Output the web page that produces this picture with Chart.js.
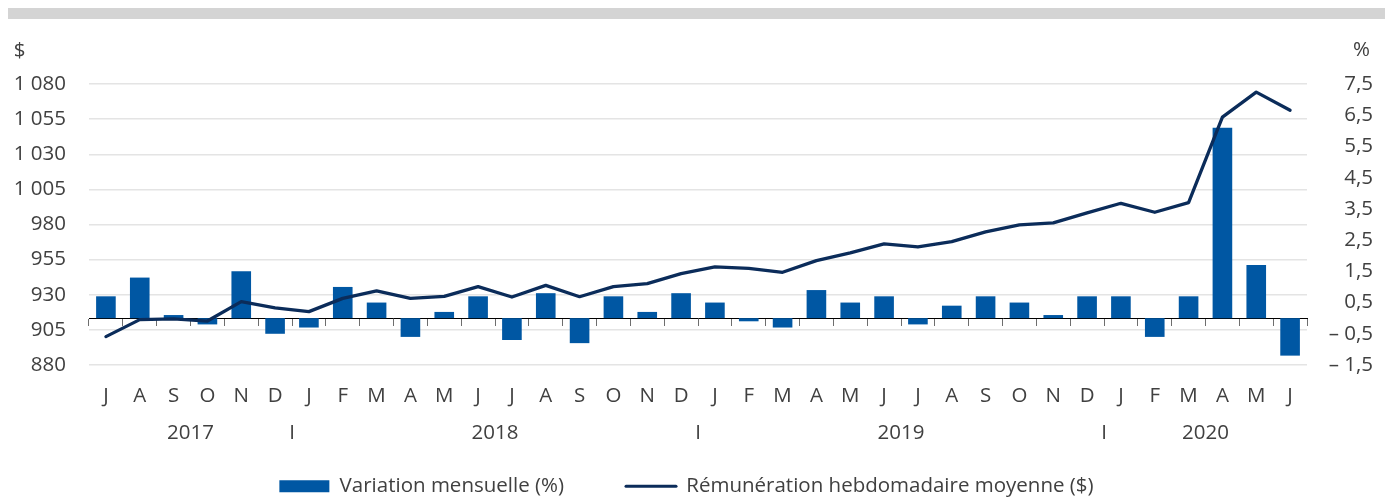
<!DOCTYPE html>
<html>
<head>
<meta charset="utf-8">
<script src="https://cdn.jsdelivr.net/npm/chart.js@4.4.1/dist/chart.umd.min.js"></script>
<style>
  html, body { margin: 0; padding: 0; background: #ffffff; }
  #wrap { position: relative; width: 1385px; height: 497px; overflow: hidden; }
  #band { position: absolute; left: 8px; top: 8px; width: 1377px; height: 11px; background: #d4d4d4; }
  #c { position: absolute; left: 0; top: 0; }
</style>
</head>
<body>
<div id="wrap">
  <div id="band"></div>
  <canvas id="c" width="1385" height="497"></canvas>
</div>
<script>
// ---- Data ----
const months = ['J','A','S','O','N','D',
                'J','F','M','A','M','J','J','A','S','O','N','D',
                'J','F','M','A','M','J','J','A','S','O','N','D',
                'J','F','M','A','M','J'];
const yearLabels = ['2017', 'I', '2018', 'I', '2019', 'I', '2020'];
const yearLabelPositions = [3, 6, 12, 18, 24, 30, 33];

const variation = [0.7, 1.3, 0.1, -0.2, 1.5, -0.5,
                   -0.3, 1.0, 0.5, -0.6, 0.2, 0.7, -0.7, 0.8, -0.8, 0.7, 0.2, 0.8,
                   0.5, -0.1, -0.3, 0.9, 0.5, 0.7, -0.2, 0.4, 0.7, 0.5, 0.1, 0.7,
                   0.7, -0.6, 0.7, 6.1, 1.7, -1.2];

const remuneration = [900.2, 912.3, 912.8, 911.3, 925.1, 920.6,
                      918.0, 927.4, 932.7, 927.4, 928.9, 935.8, 928.4, 936.7, 928.6, 935.8, 937.9, 945.0,
                      949.8, 948.8, 946.0, 954.3, 959.8, 966.2, 964.0, 967.8, 974.7, 979.7, 981.1, 988.3,
                      995.1, 988.7, 995.6, 1056.4, 1074.2, 1061.3];

const leftTicks = [880, 905, 930, 955, 980, 1005, 1030, 1055, 1080];
const rightTicks = [-1.5, -0.5, 0.5, 1.5, 2.5, 3.5, 4.5, 5.5, 6.5, 7.5];
const seriesLabels = ['Variation mensuelle (%)', 'Rémunération hebdomadaire moyenne ($)'];
const unitLabels = ['$', '%'];

// ---- Styles ----
const FONT = "'Open Sans', 'Noto Sans', sans-serif";
const textColor = '#404040';
const barColor = '#0057a3';
const lineColor = '#0b2c5a';
const axisFontSize = 20.5;

function fmtLeft(v) {
  const s = String(Math.round(v));
  return s.length > 3 ? s.slice(0, s.length - 3) + ' ' + s.slice(-3) : s;
}
function fmtRight(v) {
  return (v < 0 ? '\u2013 ' : '') + Math.abs(v).toFixed(1).replace('.', ',');
}

const unitPlugin = {
  id: 'unitLabels',
  afterDraw(chart) {
    const ctx = chart.ctx;
    const area = chart.chartArea;
    ctx.save();
    ctx.font = axisFontSize + 'px ' + FONT;
    ctx.fillStyle = textColor;
    ctx.textAlign = 'center';
    ctx.textBaseline = 'middle';
    ctx.fillText(unitLabels[0], chart.scales.y.left + 19.5, area.top - 33);
    ctx.fillText(unitLabels[1], chart.scales.y1.right - 11.5, area.top - 34);
    ctx.restore();
  }
};

new Chart(document.getElementById('c'), {
  type: 'bar',
  data: {
    labels: months,
    datasets: [
      {
        type: 'bar',
        label: seriesLabels[0],
        data: variation,
        xAxisID: 'x',
        yAxisID: 'y1',
        backgroundColor: barColor,
        borderWidth: 0,
        barPercentage: 0.58,
        categoryPercentage: 1.0,
        pointStyle: 'rect',
        order: 1
      },
      {
        type: 'line',
        label: seriesLabels[1],
        data: remuneration,
        xAxisID: 'x',
        yAxisID: 'y',
        borderColor: lineColor,
        backgroundColor: lineColor,
        borderWidth: 3.3,
        pointRadius: 0,
        pointHoverRadius: 0,
        pointBorderWidth: 3,
        pointBorderColor: lineColor,
        pointStyle: 'line',
        tension: 0,
        borderJoinStyle: 'round',
        borderCapStyle: 'round',
        fill: false,
        order: 0
      }
    ]
  },
  options: {
    responsive: false,
    animation: false,
    devicePixelRatio: 1,
    layout: { padding: { top: 84, left: 0, right: 12, bottom: 0 } },
    plugins: {
      tooltip: { enabled: false },
      legend: {
        display: true,
        position: 'bottom',
        maxHeight: 83,
        labels: {
          usePointStyle: true,
          pointStyleWidth: 50,
          boxHeight: 12,
          padding: 62,
          color: textColor,
          font: { family: FONT, size: axisFontSize },
          sort: (a, b) => a.datasetIndex - b.datasetIndex,
          generateLabels(chart) {
            const items = Chart.defaults.plugins.legend.labels.generateLabels(chart);
            items.forEach(it => {
              if (it.datasetIndex === 1) { it.lineWidth = 3; it.lineCap = 'round'; it.strokeStyle = lineColor; }
            });
            return items;
          }
        }
      }
    },
    scales: {
      x: {
        type: 'category',
        position: 'bottom',
        offset: true,
        grid: { display: false, offset: true, drawTicks: false },
        border: { display: false },
        ticks: {
          color: textColor,
          font: { family: FONT, size: axisFontSize },
          padding: 19,
          autoSkip: false,
          maxRotation: 0
        },
        afterFit(scale) { scale.height = 49; }
      },
      x2: {
        type: 'linear',
        axis: 'x',
        position: { y: leftTicks[0] },
        min: 0,
        max: months.length,
        offset: false,
        grid: { display: false, offset: false, drawTicks: false },
        border: { display: false },
        afterBuildTicks(scale) {
          scale.ticks = yearLabelPositions.map(v => ({ value: v }));
        },
        ticks: {
          color: textColor,
          font: { family: FONT, size: axisFontSize },
          padding: 56,
          autoSkip: false,
          maxRotation: 0,
          callback: (v, i) => yearLabels[i]
        }
      },
      x3: {
        type: 'category',
        axis: 'x',
        labels: months,
        position: { y1: 0 },
        offset: true,
        z: 1,
        grid: {
          display: true,
          offset: true,
          drawOnChartArea: false,
          drawTicks: true,
          tickLength: 7,
          tickColor: '#6e6e6e',
          tickWidth: 1
        },
        border: { display: true, color: '#000000', width: 1 },
        ticks: { display: false }
      },
      y: {
        type: 'linear',
        position: 'left',
        min: leftTicks[0],
        max: leftTicks[leftTicks.length - 1],
        afterBuildTicks(scale) {
          scale.ticks = leftTicks.map(v => ({ value: v }));
        },
        grid: { color: '#e4e4e4', lineWidth: 1.5, drawTicks: false },
        border: { display: false },
        ticks: {
          color: textColor,
          font: { family: FONT, size: axisFontSize },
          padding: 23,
          callback: v => fmtLeft(v)
        },
        afterFit(scale) { scale.width = 89; }
      },
      y1: {
        type: 'linear',
        position: 'right',
        min: rightTicks[0],
        max: rightTicks[rightTicks.length - 1],
        afterBuildTicks(scale) {
          scale.ticks = rightTicks.map(v => ({ value: v }));
        },
        grid: { display: false, drawTicks: false },
        border: { display: false },
        ticks: {
          color: textColor,
          font: { family: FONT, size: axisFontSize },
          padding: 23,
          crossAlign: 'far',
          callback: v => fmtRight(v)
        },
        afterFit(scale) { scale.width = 66; }
      }
    }
  },
  plugins: [unitPlugin]
});
</script>
</body>
</html>
